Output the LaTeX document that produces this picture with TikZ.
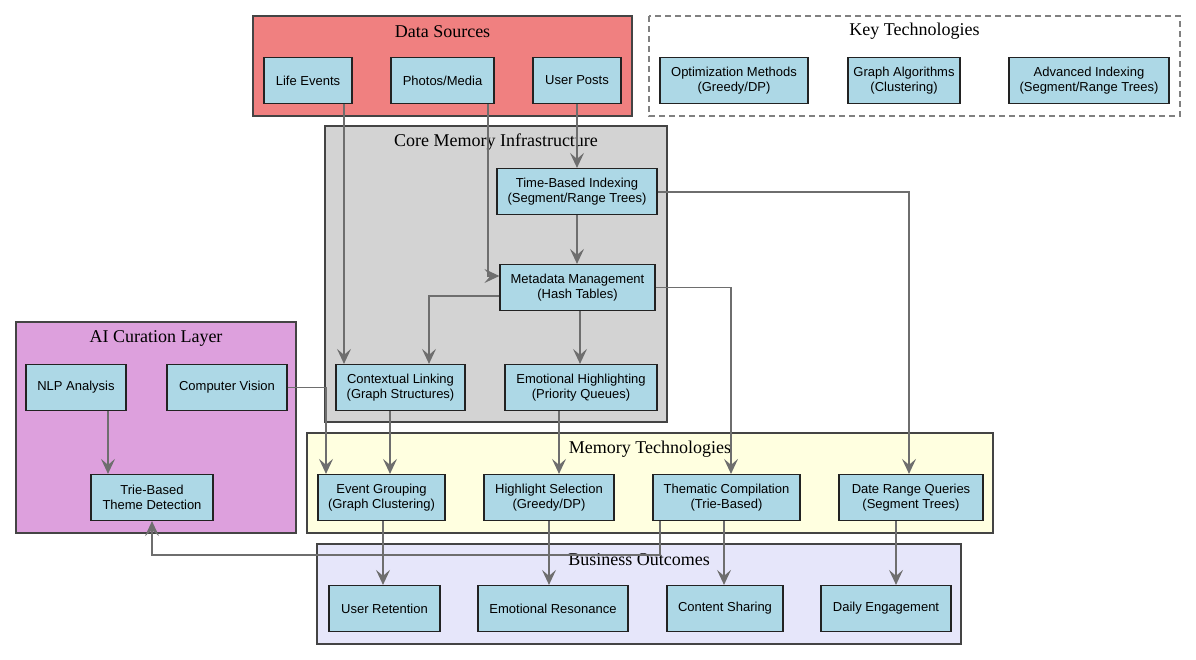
\documentclass[tikz,border=0pt]{standalone}
\usepackage{fontspec}
\setmainfont{Liberation Serif}
\newfontfamily\boxfont{Liberation Sans}
\usetikzlibrary{arrows.meta}

\definecolor{srcred}{HTML}{F08080}
\definecolor{coregray}{HTML}{D3D3D3}
\definecolor{aiplum}{HTML}{DDA0DD}
\definecolor{techyellow}{HTML}{FFFFE0}
\definecolor{outlavender}{HTML}{E6E6FA}
\definecolor{boxblue}{HTML}{ADD8E6}
\definecolor{boxline}{HTML}{222222}
\definecolor{layerline}{HTML}{444444}
\definecolor{edgegray}{HTML}{6E6E6E}

\begin{document}
\begin{tikzpicture}
  [x=1pt,y=-1pt,
   box/.style={draw=boxline,line width=1.2pt,fill=boxblue,minimum height=46pt,
     align=center,inner sep=2pt,font=\boxfont\fontsize{13}{15}\selectfont},
   layer/.style={draw=layerline,line width=1.1pt},
   title/.style={font=\fontsize{18}{20}\selectfont},
   edge/.style={draw=edgegray,line width=1.3pt,-{Stealth[length=15pt,width=14pt,inset=6pt]}}]
  \useasboundingbox (0,0) rectangle (1196,660);

  % layers
  \draw[layer,fill=srcred] (253,16) rectangle (632,116);
  \draw[draw=gray,line width=1.1pt,dash pattern=on 6pt off 4pt] (649,16) rectangle (1180,116);
  \draw[layer,fill=coregray] (325,126) rectangle (667,422);
  \draw[layer,fill=aiplum] (16,322) rectangle (296,533);
  \draw[layer,fill=techyellow] (307,433) rectangle (993,533);
  \draw[layer,fill=outlavender] (317,544) rectangle (961,644);

  \node[title] (tsrc) at (442.5,31.5) {Data Sources};
  \node[title] (tkey) at (914.5,31.5) {Key Technologies};
  \node[title] (tcore) at (496,142.5) {Core Memory Infrastructure};
  \node[title] (tai) at (156,338.5) {AI Curation Layer};
  \node[title] (ttech) at (650,449.5) {Memory Technologies};
  \node[title] (tout) at (639,559.5) {Business Outcomes};

  % nodes
  \node[box,minimum width=88pt] (life) at (308,80.5) {Life Events};
  \node[box,minimum width=103pt] (photos) at (442.5,80.5) {Photos/Media};
  \node[box,minimum width=88pt] (posts) at (577,80.5) {User Posts};
  \node[box,minimum width=148pt] (opt) at (734,80.5) {Optimization Methods\\(Greedy/DP)};
  \node[box,minimum width=112pt] (graphalg) at (904,80.5) {Graph Algorithms\\(Clustering)};
  \node[box,minimum width=160pt] (advidx) at (1089,80.5) {Advanced Indexing\\(Segment/Range Trees)};
  \node[box,minimum width=160pt] (tbi) at (577,191.5) {Time-Based Indexing\\(Segment/Range Trees)};
  \node[box,minimum width=155pt] (meta) at (577.5,287.5) {Metadata Management\\(Hash Tables)};
  \node[box,minimum width=129pt] (ctx) at (400.5,387.5) {Contextual Linking\\(Graph Structures)};
  \node[box,minimum width=152pt] (emo) at (581,387.5) {Emotional Highlighting\\(Priority Queues)};
  \node[box,minimum width=100pt] (nlp) at (76,387.5) {NLP Analysis};
  \node[box,minimum width=120pt] (cv) at (227,387.5) {Computer Vision};
  \node[box,minimum width=122pt] (trie) at (152,497.5) {Trie-Based\\Theme Detection};
  \node[box,minimum width=127pt] (evg) at (381.5,497.5) {Event Grouping\\(Graph Clustering)};
  \node[box,minimum width=130pt] (hls) at (549,497.5) {Highlight Selection\\(Greedy/DP)};
  \node[box,minimum width=147pt] (them) at (726.5,497.5) {Thematic Compilation\\(Trie-Based)};
  \node[box,minimum width=144pt] (drq) at (911,497.5) {Date Range Queries\\(Segment Trees)};
  \node[box,minimum width=111pt] (ret) at (384.5,608.5) {User Retention};
  \node[box,minimum width=150pt] (res) at (553,608.5) {Emotional Resonance};
  \node[box,minimum width=116pt] (share) at (725,608.5) {Content Sharing};
  \node[box,minimum width=130pt] (daily) at (886,608.5) {Daily Engagement};

  % straight links
  \foreach \from/\a/\to/\b in {life/36/ctx/-56.5,posts/0/tbi/0,tbi/0/meta/-0.5,meta/2.5/emo/-1,
      ctx/-10.5/evg/8.5,emo/-22/hls/10,nlp/32/trie/-44,evg/1.5/ret/-1.5,hls/0/res/-4,
      them/-2.5/share/-1,drq/-15/daily/10}
    \draw[edge] ([xshift=\a pt]\from.south) -- ([xshift=\b pt]\to.north);

  % bent links
  \draw[edge] ([xshift=45.5pt]photos.south) |- ([yshift=11.5pt]meta.west);
  \draw[edge] ([yshift=-0.5pt]tbi.east) -| ([xshift=-2pt]drq.north);
  \draw[edge] ([yshift=-8.5pt]meta.west) -| ([xshift=28.5pt]ctx.north);
  \draw[edge] (meta.east) -| ([xshift=4.5pt]them.north);
  \draw[edge] (cv.east) -| ([xshift=-55.5pt]evg.north);
  \draw[edge] ([xshift=-66.5pt]them.south) -- ++(0,34) -| (trie.south);
\end{tikzpicture}
\end{document}
